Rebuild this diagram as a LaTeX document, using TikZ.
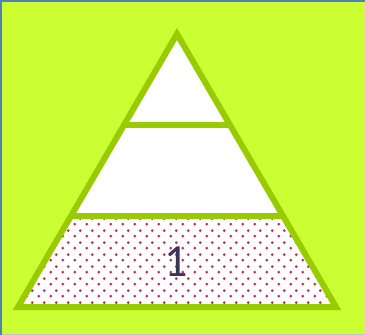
\documentclass[tikz,border=0pt]{standalone}
\usepackage{fontspec}
\newfontfamily\levelfont{Carlito}
\usetikzlibrary{patterns.meta}
\definecolor{slidelime}{RGB}{204,255,51}
\definecolor{pyrgreen}{RGB}{153,204,0}
\definecolor{frameblue}{RGB}{79,129,189}
\definecolor{dotred}{RGB}{205,40,85}
\definecolor{labelink}{RGB}{58,52,88}
\tikzdeclarepattern{
  name=pyrdots,
  type=uncolored,
  bottom left={(0pt,0pt)},
  top right={(12pt,12pt)},
  tile size={(12pt,12pt)},
  code={
    \fill (3pt,3pt) circle (1.6pt);
    \fill (9pt,9pt) circle (1.6pt);
  }
}
\tikzset{
  pyrline/.style={draw=pyrgreen, line width=6pt, line join=miter},
  levelnum/.style={font=\levelfont\fontsize{46}{50}\selectfont, text=labelink, inner sep=0pt}
}

\begin{document}
\begin{tikzpicture}
        [x=1pt,y=-1pt]
\useasboundingbox (0,0) rectangle (365,335);
\fill[slidelime] (0,0) rectangle (365,335);
\draw[frameblue!45, line width=1pt] (0,334.5) -- (365,334.5);
\draw[frameblue, line width=2pt] (1,335) -- (1,1) -- (365,1);
% corners of the pyramid and its two dividers
\coordinate (apex) at (177,34);
\coordinate (bl) at (18,307);
\coordinate (br) at (336,307);
\coordinate (ul) at (124,125);
\coordinate (ur) at (230,125);
\coordinate (ll) at (71,216);
\coordinate (lr) at (283,216);
\fill[white] (apex) -- (br) -- (bl) -- cycle;
\fill[pattern=pyrdots, pattern color=dotred] (ll) -- (lr) -- (br) -- (bl) -- cycle;
\draw[pyrline] (apex) -- (br) -- (bl) -- cycle;
\draw[pyrline] (ul) -- (ur);
\draw[pyrline] (ll) -- (lr);
\node[levelnum] (one) at (176,262) {1};
\end{tikzpicture}
\end{document}
